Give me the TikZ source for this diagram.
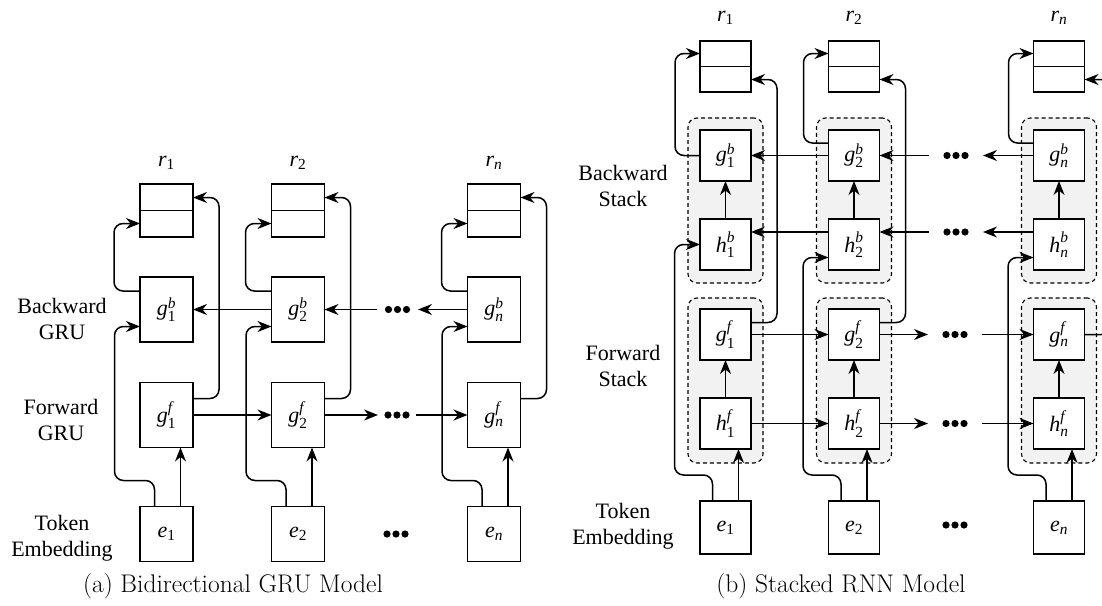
\documentclass[tikz,border=0pt]{standalone}
\usepackage{fontspec}
\usepackage{amsmath}
\usetikzlibrary{arrows.meta}
\newfontfamily\diagfont{Liberation Serif}

\tikzset{
    every node/.style={inner sep=0pt, outer sep=0pt, font=\diagfont\fontsize{22}{26}\selectfont},
    cell/.style={draw, line width=1.5pt, fill=white, minimum width=53pt, minimum height=65pt},
    rbox/.style={cell, minimum height=53pt},
    ebox/.style={cell, minimum height=55pt},
    bcell/.style={cell, minimum width=51pt, minimum height=51pt},
    ecell/.style={bcell, minimum height=53pt},
    grp/.style={draw, dashed, dash pattern=on 4pt off 3pt, line width=1.1pt, fill=black!5,
        rounded corners=9pt, minimum width=75pt, minimum height=165pt},
    dotsbox/.style={minimum width=#1, minimum height=8pt},
    side/.style={align=center},
    capt/.style={font=\fontsize{25.5}{30}\selectfont},
    flow/.style={line width=1.5pt, rounded corners=9pt, -{Stealth[length=14pt, width=11pt, inset=4.5pt]}}
}
\newcommand{\lab}[3]{$\textit{#1}^{\textit{#2}}_{\text{#3}}$}
\newcommand{\low}[2]{$\textit{#1}_{\text{#2}}$}

\begin{document}
\begin{tikzpicture}[x=1pt, y=-1pt]
    \clip (0,0) rectangle (1102,605);

    % (a) bidirectional GRU
    \node (ar1t) at (166.5,163) {\low{r}{1}};
    \node (ar2t) at (298,163) {\low{r}{2}};
    \node (arnt) at (494,163) {\low{r}{\textit{n}}};

    \node[rbox] (ar1) at (166.5,210.5) {};
    \node[rbox] (ar2) at (298,210.5) {};
    \node[rbox] (arn) at (494,210.5) {};

    \node[cell] (agb1) at (166.5,309.5) {\lab{g}{b}{1}};
    \node[cell] (agb2) at (298,309.5) {\lab{g}{b}{2}};
    \node[cell] (agbn) at (494,309.5) {\lab{g}{b}{\textit{n}}};

    \node[cell] (agf1) at (166.5,415) {\lab{g}{f}{1}};
    \node[cell] (agf2) at (298,415) {\lab{g}{f}{2}};
    \node[cell] (agfn) at (494,415) {\lab{g}{f}{\textit{n}}};

    \node[ebox] (ae1) at (166.5,534) {\low{e}{1}};
    \node[ebox] (ae2) at (298,534) {\low{e}{2}};
    \node[ebox] (aen) at (494,534) {\low{e}{\textit{n}}};

    \node[dotsbox=41pt] (abdots) at (397.5,309.5) {};
    \node[dotsbox=38pt] (afdots) at (397,415) {};
    \node[dotsbox=30pt] (aedots) at (396,534) {};

    \node[side] (abk) at (62,319) {Backward\\GRU};
    \node[side] (afw) at (61,420) {Forward\\GRU};
    \node[side] (atk) at (62,538) {Token\\Embedding};

    \node[capt] (capa) at (233,586) {(a) Bidirectional GRU Model};

    \draw[line width=1.5pt] (ar1.west) -- (ar1.east);
    \draw[line width=1.5pt] (ar2.west) -- (ar2.east);
    \draw[line width=1.5pt] (arn.west) -- (arn.east);

    \draw[flow] ([yshift=-14pt]agb1.north west) -- ++(-26,0) |- ([yshift=-13pt]ar1.west);
    \draw[flow] ([yshift=-14pt]agb2.north west) -- ++(-26,0) |- ([yshift=-13pt]ar2.west);
    \draw[flow] ([yshift=-14pt]agbn.north west) -- ++(-26,0) |- ([yshift=-13pt]arn.west);

    \draw[flow] ([yshift=-16pt]agf1.north east) -- ++(26,0) |- ([yshift=13pt]ar1.east);
    \draw[flow] ([yshift=-16pt]agf2.north east) -- ++(26,0) |- ([yshift=13pt]ar2.east);
    \draw[flow] ([yshift=-16pt]agfn.north east) -- ++(26,0) |- ([yshift=13pt]arn.east);

    \draw[flow] ([xshift=-12pt]ae1.north) -- ++(0,-26) -- ++(-40,0) |- ([yshift=-17pt]agb1.west);
    \draw[flow] ([xshift=-12pt]ae2.north) -- ++(0,-26) -- ++(-40,0) |- ([yshift=-17pt]agb2.west);
    \draw[flow] ([xshift=-12pt]aen.north) -- ++(0,-26) -- ++(-40,0) |- ([yshift=-17pt]agbn.west);

    \draw[flow] ([xshift=14pt]ae1.north) -- ([xshift=14pt]agf1.south);
    \draw[flow] ([xshift=14pt]ae2.north) -- ([xshift=14pt]agf2.south);
    \draw[flow] ([xshift=14pt]aen.north) -- ([xshift=14pt]agfn.south);

    \draw[flow] (agf1) -- (agf2);
    \draw[flow] (agf2) -- (afdots);
    \draw[flow] (afdots) -- (agfn);
    \draw[flow] (agb2) -- (agb1);
    \draw[flow] (abdots) -- (agb2);
    \draw[flow] (agbn) -- (abdots);

    % (b) stacked RNN
    \node[grp] (bbk1) at (725.5,200.5) {};
    \node[grp] (bbk2) at (854,200.5) {};
    \node[grp] (bbkn) at (1059,200.5) {};
    \node[grp] (bfw1) at (725.5,380.5) {};
    \node[grp] (bfw2) at (854,380.5) {};
    \node[grp] (bfwn) at (1059,380.5) {};

    \node (br1t) at (725.5,18) {\low{r}{1}};
    \node (br2t) at (854,18) {\low{r}{2}};
    \node (brnt) at (1059,18) {\low{r}{\textit{n}}};

    \node[bcell] (br1) at (725.5,66.5) {};
    \node[bcell] (br2) at (854,66.5) {};
    \node[bcell] (brn) at (1059,66.5) {};

    \node[bcell] (bgb1) at (725.5,155.5) {\lab{g}{b}{1}};
    \node[bcell] (bgb2) at (854,155.5) {\lab{g}{b}{2}};
    \node[bcell] (bgbn) at (1059,155.5) {\lab{g}{b}{\textit{n}}};

    \node[bcell] (bhb1) at (725.5,244.5) {\lab{h}{b}{1}};
    \node[bcell] (bhb2) at (854,244.5) {\lab{h}{b}{2}};
    \node[bcell] (bhbn) at (1059,244.5) {\lab{h}{b}{\textit{n}}};

    \node[bcell] (bgf1) at (725.5,334.5) {\lab{g}{f}{1}};
    \node[bcell] (bgf2) at (854,334.5) {\lab{g}{f}{2}};
    \node[bcell] (bgfn) at (1059,334.5) {\lab{g}{f}{\textit{n}}};

    \node[bcell] (bhf1) at (725.5,423.5) {\lab{h}{f}{1}};
    \node[bcell] (bhf2) at (854,423.5) {\lab{h}{f}{2}};
    \node[bcell] (bhfn) at (1059,423.5) {\lab{h}{f}{\textit{n}}};

    \node[ecell] (be1) at (725.5,527.5) {\low{e}{1}};
    \node[ecell] (be2) at (854,527.5) {\low{e}{2}};
    \node[ecell] (ben) at (1059,527.5) {\low{e}{\textit{n}}};

    \node[dotsbox=54pt] (bgbdots) at (956,155.5) {};
    \node[dotsbox=54pt] (bhbdots) at (956,232) {};
    \node[dotsbox=54pt] (bgfdots) at (955,334.5) {};
    \node[dotsbox=54pt] (bhfdots) at (955,423.5) {};
    \node[dotsbox=30pt] (bedots) at (955,525) {};

    \node[side] (bbk) at (623,186) {Backward\\Stack};
    \node[side] (bfw) at (623,366) {Forward\\Stack};
    \node[side] (btk) at (623,526) {Token\\Embedding};

    \node[capt] (capb) at (841,586) {(b) Stacked RNN Model};

    \draw[line width=1.5pt] (br1.west) -- (br1.east);
    \draw[line width=1.5pt] (br2.west) -- (br2.east);
    \draw[line width=1.5pt] (brn.west) -- (brn.east);

    \draw[flow] (bgb1.west) -- ++(-25,0) |- ([yshift=13pt]br1.west);
    \draw[flow] ([yshift=12.5pt]bgb2.west) -- ++(-25,0) |- ([yshift=13pt]br2.west);
    \draw[flow] ([yshift=12.5pt]bgbn.west) -- ++(-25,0) |- ([yshift=13pt]brn.west);

    \draw[flow] ([yshift=12pt]bgf1.east) -- ++(26,0) |- ([yshift=-13pt]br1.east);
    \draw[flow] ([yshift=12pt]bgf2.east) -- ++(26,0) |- ([yshift=-13pt]br2.east);
    \draw[flow, overlay] (bgfn.east) -- ++(26,0) |- ([yshift=-13pt]brn.east);

    \draw[flow] ([xshift=-13pt]be1.north) -- ++(0,-26) -- ++(-38,0) |- (bhb1.west);
    \draw[flow] ([xshift=-13pt]be2.north) -- ++(0,-26) -- ++(-38,0) |- ([yshift=-13pt]bhb2.west);
    \draw[flow] ([xshift=-13pt]ben.north) -- ++(0,-26) -- ++(-38,0) |- ([yshift=-13pt]bhbn.west);

    \draw[flow] ([xshift=13pt]be1.north) -- ([xshift=13pt]bhf1.south);
    \draw[flow] ([xshift=13pt]be2.north) -- ([xshift=13pt]bhf2.south);
    \draw[flow] ([xshift=13pt]ben.north) -- ([xshift=13pt]bhfn.south);

    \draw[flow] (bhf1) -- (bgf1);
    \draw[flow] (bhf2) -- (bgf2);
    \draw[flow] (bhfn) -- (bgfn);
    \draw[flow] (bhb1) -- (bgb1);
    \draw[flow] (bhb2) -- (bgb2);
    \draw[flow] (bhbn) -- (bgbn);

    \draw[flow] (bgf1) -- (bgf2);
    \draw[flow] (bgf2) -- (bgfdots);
    \draw[flow] (bgfdots) -- (bgfn);
    \draw[flow] (bhf1) -- (bhf2);
    \draw[flow] (bhf2) -- (bhfdots);
    \draw[flow] (bhfdots) -- (bhfn);

    \draw[flow] (bgb2) -- (bgb1);
    \draw[flow] (bgbdots) -- (bgb2);
    \draw[flow] (bgbn) -- (bgbdots);
    \draw[flow] ([yshift=12.5pt]bhb2.west) -- ([yshift=12.5pt]bhb1.east);
    \draw[flow] (bhbdots.west) -- ([yshift=12.5pt]bhb2.east);
    \draw[flow] ([yshift=12.5pt]bhbn.west) -- (bhbdots.east);

    % ellipsis dots
    \foreach \n in {abdots,afdots,aedots,bgbdots,bhbdots,bgfdots,bhfdots,bedots}
        \foreach \d in {-9,0,9}
            \fill ([xshift=\d pt]\n.center) circle (3.6pt);
\end{tikzpicture}
\end{document}
